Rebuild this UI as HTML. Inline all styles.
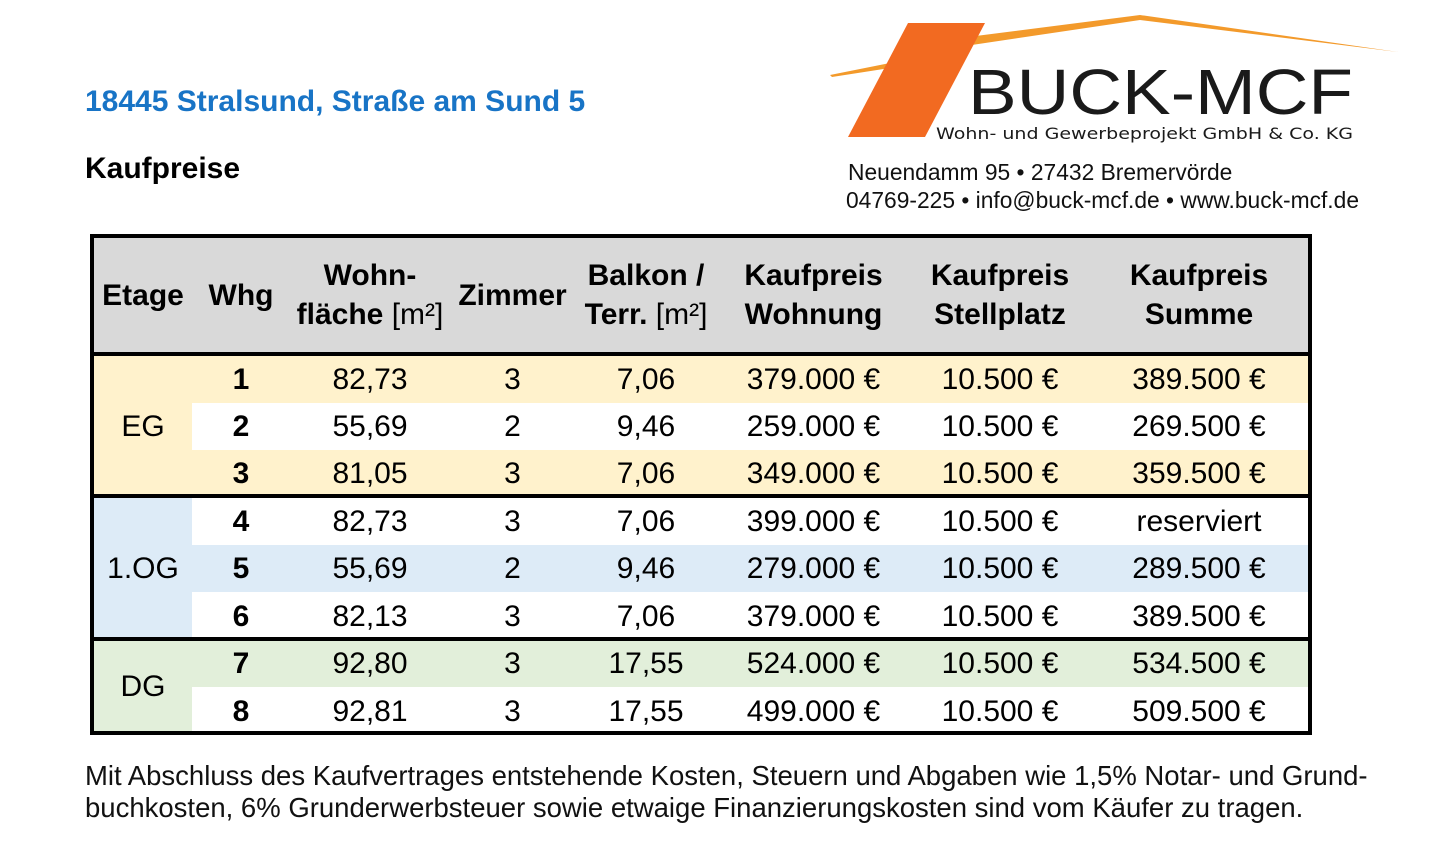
<!DOCTYPE html>
<html><head><meta charset="utf-8"><style>
body{margin:0;width:1440px;height:848px;background:#fff;font-family:"Liberation Sans",Arial,sans-serif;position:relative;overflow:hidden;color:#000}
.a{position:absolute}
.c{position:absolute;text-align:center;font-size:30px;line-height:32px}
.h{line-height:39px}
.b{font-weight:bold}
</style></head><body>
<div class="a" style="left:85px;top:85px;font-size:30px;font-weight:bold;color:#1874c6">18445 Stralsund, Straße am Sund 5</div>
<div class="a" style="left:85px;top:152px;font-size:30px;font-weight:bold">Kaufpreise</div>
<svg class="a" style="left:820px;top:10px" width="590" height="140">
<path d="M10,65 L75,52 L70,58 L12,67Z" fill="#f39a2b"/>
<path d="M140,28 L320,5 L578,42 L320,10 L145,36Z" fill="#f39a2b"/>
<path d="M88,13 L165,13 L105,127 L28,127Z" fill="#f26a21"/>
<text x="148" y="104" font-family="Liberation Sans,sans-serif" font-size="64" fill="#1a1a1a" textLength="385" lengthAdjust="spacingAndGlyphs">BUCK-MCF</text>
<text x="116" y="129" font-family="DejaVu Sans,sans-serif" font-size="16" fill="#1a1a1a" textLength="417" lengthAdjust="spacingAndGlyphs">Wohn- und Gewerbeprojekt GmbH &amp; Co. KG</text>
</svg>
<div class="a" style="left:848px;top:158px;font-size:22.8px;line-height:28px;color:#111">Neuendamm 95 • 27432 Bremervörde<br><span style="margin-left:-2px">04769-225 • info@buck-mcf.de • www.buck-mcf.de</span></div>

<div class="a" style="left:90px;top:234px;width:1222px;height:501px;background:#000"></div>
<div class="a" style="left:94px;top:238px;width:1214px;height:114px;background:#d9d9d9"></div>
<div class="a" style="left:94px;top:356px;width:1214px;height:138px;background:#fff"></div>
<div class="a" style="left:94px;top:356px;width:1214px;height:47px;background:#fff2cc"></div>
<div class="a" style="left:94px;top:450px;width:1214px;height:44px;background:#fff2cc"></div>
<div class="a" style="left:94px;top:356px;width:98px;height:138px;background:#fff2cc"></div>
<div class="a" style="left:94px;top:498px;width:1214px;height:139px;background:#fff"></div>
<div class="a" style="left:94px;top:545px;width:1214px;height:47px;background:#ddebf7"></div>
<div class="a" style="left:94px;top:498px;width:98px;height:139px;background:#ddebf7"></div>
<div class="a" style="left:94px;top:641px;width:1214px;height:90px;background:#fff"></div>
<div class="a" style="left:94px;top:641px;width:1214px;height:46px;background:#e2efda"></div>
<div class="a" style="left:94px;top:641px;width:98px;height:90px;background:#e2efda"></div>

<div class="c b" style="left:94px;width:98px;top:280px">Etage</div>
<div class="c b" style="left:192px;width:98px;top:280px">Whg</div>
<div class="c b h" style="left:290px;width:160px;top:256px">Wohn-<br>fläche <span style="font-weight:normal">[m²]</span></div>
<div class="c b" style="left:450px;width:125px;top:280px">Zimmer</div>
<div class="c b h" style="left:575px;width:142px;top:256px">Balkon /<br>Terr. <span style="font-weight:normal">[m²]</span></div>
<div class="c b h" style="left:717px;width:193px;top:256px">Kaufpreis<br>Wohnung</div>
<div class="c b h" style="left:910px;width:180px;top:256px">Kaufpreis<br>Stellplatz</div>
<div class="c b h" style="left:1090px;width:218px;top:256px">Kaufpreis<br>Summe</div>

<div class="c" style="left:94px;width:98px;top:411px">EG</div>
<div class="c" style="left:94px;width:98px;top:553px">1.OG</div>
<div class="c" style="left:94px;width:98px;top:671px">DG</div>

<div id="rows"></div>
<script>
var d=[[380,1,"82,73",3,"7,06","379.000 €","389.500 €"],[427,2,"55,69",2,"9,46","259.000 €","269.500 €"],[474,3,"81,05",3,"7,06","349.000 €","359.500 €"],[522,4,"82,73",3,"7,06","399.000 €","reserviert"],[569,5,"55,69",2,"9,46","279.000 €","289.500 €"],[617,6,"82,13",3,"7,06","379.000 €","389.500 €"],[664,7,"92,80",3,"17,55","524.000 €","534.500 €"],[712,8,"92,81",3,"17,55","499.000 €","509.500 €"]];
var h="";d.forEach(function(r){var t=r[0]-16;
h+='<div class="c b" style="left:192px;width:98px;top:'+t+'px">'+r[1]+'</div>';
h+='<div class="c" style="left:290px;width:160px;top:'+t+'px">'+r[2]+'</div>';
h+='<div class="c" style="left:450px;width:125px;top:'+t+'px">'+r[3]+'</div>';
h+='<div class="c" style="left:575px;width:142px;top:'+t+'px">'+r[4]+'</div>';
h+='<div class="c" style="left:717px;width:193px;top:'+t+'px">'+r[5]+'</div>';
h+='<div class="c" style="left:910px;width:180px;top:'+t+'px">10.500 €</div>';
h+='<div class="c" style="left:1090px;width:218px;top:'+t+'px">'+r[6]+'</div>';});
document.getElementById("rows").innerHTML=h;
</script>
<div class="a" style="left:85px;top:760px;font-size:27.5px;line-height:32px;color:#111;white-space:nowrap">Mit Abschluss des Kaufvertrages entstehende Kosten, Steuern und Abgaben wie 1,5% Notar- und Grund-<br>buchkosten, 6% Grunderwerbsteuer sowie etwaige Finanzierungskosten sind vom Käufer zu tragen.</div>
</body></html>
